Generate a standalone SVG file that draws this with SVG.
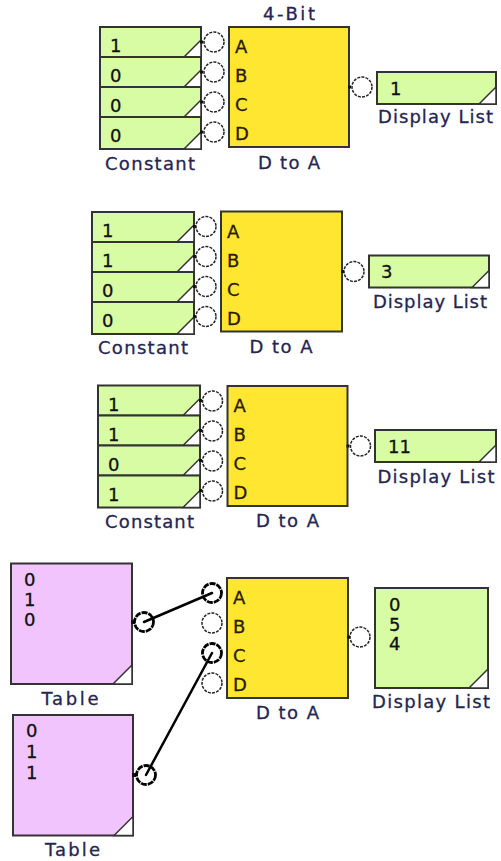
<svg xmlns="http://www.w3.org/2000/svg" width="501" height="861" viewBox="0 0 501 861">
<style>
.const{fill:#d8fca4;stroke:#333;stroke-width:2}
.dta{fill:#ffe630;stroke:#333;stroke-width:2}
.tbl{fill:#f1c4fe;stroke:#333;stroke-width:2}
.disp{fill:#d8fca4;stroke:#333;stroke-width:2}
.tri{fill:#fff;stroke:#333;stroke-width:1.5;stroke-linejoin:miter}
.port{fill:#fff;stroke:#222;stroke-width:1.5;stroke-dasharray:3 1.2}
.porton{fill:none;stroke:#000;stroke-width:2.8;stroke-dasharray:6 1}
.dot{fill:#111}
.wire{stroke:#000;stroke-width:2.5;fill:none;stroke-linecap:round}
text{font-family:"DejaVu Sans",Verdana,sans-serif;font-size:18px;stroke-width:0.3}
.lbl{fill:#25254f;stroke:#25254f;text-anchor:middle}
.val{fill:#111;stroke:#111}
.pin{fill:#2a1a00;stroke:#2a1a00}
</style>

<!-- ===== Section 1 ===== -->
<g id="s1-constants">
  <g id="s1-const-a"><rect class="const" x="100" y="27" width="101" height="30"/><polygon class="tri" points="184,57 201,40 201,57"/><text class="val" x="110" y="52">1</text><rect class="dot" x="200" y="40.5" width="3" height="3"/></g>
  <g id="s1-const-b"><rect class="const" x="100" y="57" width="101" height="30"/><polygon class="tri" points="184,87 201,70 201,87"/><text class="val" x="110" y="82">0</text><rect class="dot" x="200" y="70.5" width="3" height="3"/></g>
  <g id="s1-const-c"><rect class="const" x="100" y="87" width="101" height="30"/><polygon class="tri" points="184,117 201,100 201,117"/><text class="val" x="110" y="112">0</text><rect class="dot" x="200" y="100.5" width="3" height="3"/></g>
  <g id="s1-const-d"><rect class="const" x="100" y="117" width="101" height="32"/><polygon class="tri" points="184,149 201,132 201,149"/><text class="val" x="110" y="142">0</text><rect class="dot" x="200" y="130.5" width="3" height="3"/></g>
  <text class="lbl" x="150" y="170" textLength="90" lengthAdjust="spacing">Constant</text>
</g>
<g id="s1-dtoa">
  <text class="lbl" x="289" y="20" textLength="52" lengthAdjust="spacing">4-Bit</text>
  <rect class="dta" x="229" y="27" width="120" height="120"/>
  <text class="pin" x="235" y="53">A</text><text class="pin" x="235" y="82">B</text><text class="pin" x="235" y="111">C</text><text class="pin" x="235" y="140">D</text>
  <circle class="port" cx="214" cy="42" r="10"/><circle class="port" cx="214" cy="72" r="10"/><circle class="port" cx="214" cy="102" r="10"/><circle class="port" cx="214" cy="132" r="10"/>
  <circle class="port" cx="362" cy="87" r="10"/><rect class="dot" x="348" y="85.5" width="3" height="3"/>
  <text class="lbl" x="289" y="169" textLength="62" lengthAdjust="spacing">D to A</text>
</g>
<g id="s1-display">
  <rect class="disp" x="377" y="72" width="119" height="32"/><polygon class="tri" points="479,104 496,87 496,104"/>
  <text class="val" x="390" y="95">1</text>
  <text class="lbl" x="435.5" y="123" textLength="115" lengthAdjust="spacing">Display List</text>
</g>

<!-- ===== Section 2 ===== -->
<g id="s2-constants">
  <g id="s2-const-a"><rect class="const" x="92" y="212" width="102" height="30"/><polygon class="tri" points="177,242 194,225 194,242"/><text class="val" x="102" y="237">1</text><rect class="dot" x="193" y="225" width="3" height="3"/></g>
  <g id="s2-const-b"><rect class="const" x="92" y="242" width="102" height="30"/><polygon class="tri" points="177,272 194,255 194,272"/><text class="val" x="102" y="267">1</text><rect class="dot" x="193" y="255" width="3" height="3"/></g>
  <g id="s2-const-c"><rect class="const" x="92" y="272" width="102" height="30"/><polygon class="tri" points="177,302 194,285 194,302"/><text class="val" x="102" y="297">0</text><rect class="dot" x="193" y="285" width="3" height="3"/></g>
  <g id="s2-const-d"><rect class="const" x="92" y="302" width="102" height="32"/><polygon class="tri" points="177,334 194,317 194,334"/><text class="val" x="102" y="327">0</text><rect class="dot" x="193" y="315" width="3" height="3"/></g>
  <text class="lbl" x="143" y="354" textLength="90" lengthAdjust="spacing">Constant</text>
</g>
<g id="s2-dtoa">
  <rect class="dta" x="221" y="211.5" width="121" height="120"/>
  <text class="pin" x="227" y="237.5">A</text><text class="pin" x="227" y="266.5">B</text><text class="pin" x="227" y="295.5">C</text><text class="pin" x="227" y="324.5">D</text>
  <circle class="port" cx="206" cy="226.5" r="10"/><circle class="port" cx="206" cy="256.5" r="10"/><circle class="port" cx="206" cy="286.5" r="10"/><circle class="port" cx="206" cy="316.5" r="10"/>
  <circle class="port" cx="354" cy="271.5" r="10"/><rect class="dot" x="341" y="270" width="3" height="3"/>
  <text class="lbl" x="281" y="353" textLength="63" lengthAdjust="spacing">D to A</text>
</g>
<g id="s2-display">
  <rect class="disp" x="369" y="255.5" width="120" height="32"/><polygon class="tri" points="472,287.5 489,270.5 489,287.5"/>
  <text class="val" x="381" y="278">3</text>
  <text class="lbl" x="430" y="308" textLength="114" lengthAdjust="spacing">Display List</text>
</g>

<!-- ===== Section 3 ===== -->
<g id="s3-constants">
  <g id="s3-const-a"><rect class="const" x="98" y="385.5" width="102" height="30"/><polygon class="tri" points="183,415.5 200,398.5 200,415.5"/><text class="val" x="108" y="410.5">1</text><rect class="dot" x="199" y="399" width="3" height="3"/></g>
  <g id="s3-const-b"><rect class="const" x="98" y="415.5" width="102" height="30"/><polygon class="tri" points="183,445.5 200,428.5 200,445.5"/><text class="val" x="108" y="440.5">1</text><rect class="dot" x="199" y="429" width="3" height="3"/></g>
  <g id="s3-const-c"><rect class="const" x="98" y="445.5" width="102" height="30"/><polygon class="tri" points="183,475.5 200,458.5 200,475.5"/><text class="val" x="108" y="470.5">0</text><rect class="dot" x="199" y="459" width="3" height="3"/></g>
  <g id="s3-const-d"><rect class="const" x="98" y="475.5" width="102" height="32"/><polygon class="tri" points="183,507.5 200,490.5 200,507.5"/><text class="val" x="108" y="500.5">1</text><rect class="dot" x="199" y="489" width="3" height="3"/></g>
  <text class="lbl" x="149.5" y="528" textLength="89" lengthAdjust="spacing">Constant</text>
</g>
<g id="s3-dtoa">
  <rect class="dta" x="227.5" y="386" width="120" height="120"/>
  <text class="pin" x="233.5" y="412">A</text><text class="pin" x="233.5" y="441">B</text><text class="pin" x="233.5" y="470">C</text><text class="pin" x="233.5" y="499">D</text>
  <circle class="port" cx="212.5" cy="401" r="10"/><circle class="port" cx="212.5" cy="431" r="10"/><circle class="port" cx="212.5" cy="461" r="10"/><circle class="port" cx="212.5" cy="491" r="10"/>
  <circle class="port" cx="360.5" cy="446" r="10"/><rect class="dot" x="346.5" y="444.5" width="3" height="3"/>
  <text class="lbl" x="287.5" y="527" textLength="63" lengthAdjust="spacing">D to A</text>
</g>
<g id="s3-display">
  <rect class="disp" x="375" y="430" width="121" height="32"/><polygon class="tri" points="479,462 496,445 496,462"/>
  <text class="val" x="388" y="453">11</text>
  <text class="lbl" x="436" y="482.5" textLength="117" lengthAdjust="spacing">Display List</text>
</g>

<!-- ===== Section 4 ===== -->
<g id="s4-table-1">
  <rect class="tbl" x="11" y="563.5" width="121" height="120.5"/><polygon class="tri" points="113,684 132,665 132,684"/>
  <text class="val" x="24" y="586">0</text><text class="val" x="24" y="606">1</text><text class="val" x="24" y="626">0</text>
  <rect class="dot" x="131" y="620" width="4" height="4"/>
  <circle class="porton" cx="144" cy="622" r="9.5"/>
  <text class="lbl" x="70" y="705" textLength="57" lengthAdjust="spacing">Table</text>
</g>
<g id="s4-table-2">
  <rect class="tbl" x="13" y="715" width="120" height="120.5"/><polygon class="tri" points="114,835.5 133,816.5 133,835.5"/>
  <text class="val" x="26" y="737">0</text><text class="val" x="26" y="758">1</text><text class="val" x="26" y="779">1</text>
  <rect class="dot" x="132" y="773" width="4" height="4"/>
  <circle class="porton" cx="146" cy="775" r="9.5"/>
  <text class="lbl" x="72.5" y="856" textLength="55" lengthAdjust="spacing">Table</text>
</g>
<g id="s4-dtoa">
  <rect class="dta" x="227" y="578" width="121" height="120"/>
  <text class="pin" x="233" y="604">A</text><text class="pin" x="233" y="633">B</text><text class="pin" x="233" y="662">C</text><text class="pin" x="233" y="691">D</text>
  <circle class="porton" cx="212" cy="593" r="9.5"/><circle class="port" cx="212" cy="623" r="10"/><circle class="porton" cx="212" cy="653" r="9.5"/><circle class="port" cx="212" cy="683" r="10"/>
  <circle class="port" cx="360" cy="637" r="10"/><rect class="dot" x="347" y="635.5" width="3" height="3"/>
  <text class="lbl" x="287.5" y="719" textLength="63" lengthAdjust="spacing">D to A</text>
</g>
<g id="s4-display">
  <rect class="disp" x="375" y="588" width="113" height="100"/><polygon class="tri" points="469,688 488,669 488,688"/>
  <text class="val" x="389" y="611">0</text><text class="val" x="389" y="630.5">5</text><text class="val" x="389" y="650">4</text>
  <text class="lbl" x="431" y="708" textLength="118" lengthAdjust="spacing">Display List</text>
</g>

<g id="connectors">
  <line class="wire" x1="144" y1="622" x2="212" y2="593"/>
  <line class="wire" x1="146" y1="775" x2="212" y2="653"/>
</g>
</svg>
